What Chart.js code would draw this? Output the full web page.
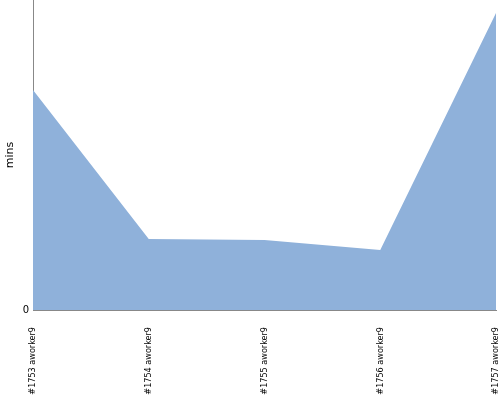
<!DOCTYPE html>
<html>
<head>
<meta charset="utf-8">
<script src="https://cdn.jsdelivr.net/npm/chart.js@4/dist/chart.umd.min.js"></script>
<style>
  html, body { margin: 0; padding: 0; background: #fff; }
  #wrap { width: 500px; height: 400px; }
</style>
</head>
<body>
<div id="wrap"><canvas id="buildChart" width="500" height="400"></canvas></div>
<script>
// build names and durations (mins)
const builds = ['#1753 aworker9', '#1754 aworker9', '#1755 aworker9', '#1756 aworker9', '#1757 aworker9'];
const durations = [220, 71, 70, 60, 297];
const yTicks = [0];

const ctx = document.getElementById('buildChart').getContext('2d');
const buildChart = new Chart(ctx, {
    type: 'line',
    data: {
        labels: builds,
        datasets: [{
            data: durations,
            fill: 'origin',
            backgroundColor: 'rgb(143,177,218)',
            borderWidth: 0,
            pointRadius: 0,
            tension: 0
        }]
    },
    options: {
        responsive: false,
        animation: false,
        layout: { padding: { top: 0, right: 4, left: 0, bottom: 0 } },
        plugins: {
            legend: { display: false },
            tooltip: { enabled: false }
        },
        scales: {
            x: {
                offset: false,
                grid: { display: false, drawTicks: false },
                border: { color: '#888', width: 1 },
                ticks: {
                    minRotation: 90,
                    maxRotation: 90,
                    padding: 17,
                    color: '#000',
                    font: { family: 'DejaVu Sans Condensed', size: 9 }
                },
                afterFit: (axis) => {
                    axis.height = 90;
                    axis.paddingLeft = 0;
                    axis.paddingRight = 0;
                }
            },
            y: {
                min: 0,
                max: 310,
                grid: { display: false, drawTicks: false },
                border: { color: '#888', width: 1 },
                afterBuildTicks: (axis) => { axis.ticks = yTicks.map(v => ({ value: v })); },
                ticks: {
                    padding: 4,
                    color: '#000',
                    font: { family: 'DejaVu Sans', size: 10 }
                },
                title: {
                    display: true,
                    text: 'mins',
                    color: '#000',
                    padding: { top: 4, bottom: 0 },
                    font: { family: 'DejaVu Sans', size: 11 }
                },
                afterFit: (axis) => {
                    axis.width = 33;
                    axis.paddingTop = 0;
                    axis.paddingBottom = 0;
                }
            }
        }
    }
});
</script>
</body>
</html>
